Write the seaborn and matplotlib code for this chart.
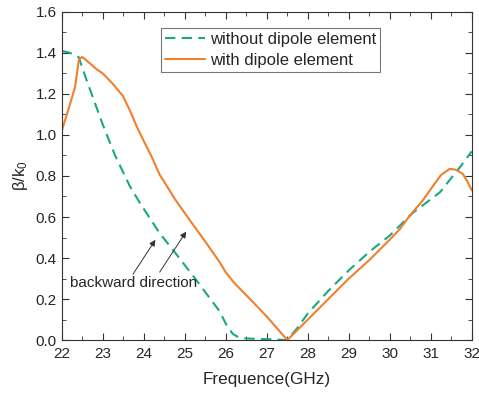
import seaborn as sns
import matplotlib.pyplot as plt
import matplotlib.ticker as mticker
import pandas as pd

# Data
freq_without = [22.0, 22.2, 22.41, 22.6, 22.8, 23.0, 23.3, 23.66, 23.9, 24.39, 24.71,
                25.29, 25.85, 26.0, 26.17, 26.3, 26.5, 26.9, 27.2, 27.5, 27.75, 28.0,
                28.5, 29.0, 29.5, 30.0, 30.56, 31.22, 31.7, 32.0]
beta_without = [1.41, 1.40, 1.38, 1.27, 1.16, 1.05, 0.90, 0.75, 0.67, 0.52, 0.44,
                0.29, 0.14, 0.08, 0.03, 0.015, 0.008, 0.005, 0.003, 0.0, 0.06, 0.13,
                0.24, 0.34, 0.43, 0.51, 0.62, 0.72, 0.84, 0.92]

freq_with = [22.0, 22.2, 22.32, 22.37, 22.42, 22.5, 22.68, 22.85, 23.0, 23.24, 23.49,
             23.66, 23.83, 24.0, 24.2, 24.39, 24.55, 24.75, 25.12, 25.5, 25.85, 26.0,
             26.2, 26.59, 27.0, 27.5, 28.0, 28.5, 29.0, 29.5, 30.0, 30.24, 30.5,
             30.8, 31.05, 31.25, 31.46, 31.62, 31.78, 31.9, 32.0]
beta_with = [1.02, 1.15, 1.23, 1.30, 1.37, 1.38, 1.35, 1.32, 1.30, 1.25, 1.19,
             1.12, 1.04, 0.97, 0.89, 0.805, 0.755, 0.69, 0.585, 0.48, 0.38, 0.33,
             0.28, 0.20, 0.115, 0.0, 0.10, 0.20, 0.30, 0.39, 0.49, 0.54, 0.61,
             0.68, 0.75, 0.805, 0.835, 0.83, 0.81, 0.77, 0.73]

df = pd.concat([
    pd.DataFrame({'f': freq_without, 'b': beta_without, 'case': 'without dipole element'}),
    pd.DataFrame({'f': freq_with, 'b': beta_with, 'case': 'with dipole element'}),
])

sns.set_style('ticks')
plt.rcParams['font.family'] = ['Liberation Sans', 'DejaVu Sans']
plt.rcParams['mathtext.fontset'] = 'custom'
plt.rcParams['mathtext.rm'] = 'Liberation Sans'
plt.rcParams['mathtext.it'] = 'Liberation Sans'

fig = plt.figure(figsize=(4.79, 3.95), dpi=100)
ax = fig.add_axes([0.129, 0.139, 0.856, 0.831])

sns.lineplot(data=df, x='f', y='b', hue='case', style='case',
             palette=['#18a887', '#f07f2e'],
             dashes=[(5, 3), ''], lw=1.5, ax=ax, sort=False, estimator=None)

ax.set_xlim(22, 32)
ax.set_ylim(0, 1.6)
ax.xaxis.set_major_locator(mticker.MultipleLocator(1))
ax.xaxis.set_minor_locator(mticker.MultipleLocator(0.5))
ax.yaxis.set_major_locator(mticker.MultipleLocator(0.2))
ax.yaxis.set_minor_locator(mticker.MultipleLocator(0.1))
ax.yaxis.set_major_formatter(mticker.FormatStrFormatter('%.1f'))
ax.tick_params(which='both', direction='in', top=True, right=True,
               labelsize=11, color='#333333')
ax.tick_params(which='major', length=5)
ax.tick_params(axis='x', which='major', pad=5)
ax.tick_params(which='minor', length=3)
for s in ax.spines.values():
    s.set_color('#333333')

ax.set_xlabel('Frequence(GHz)', fontsize=12.3, labelpad=8)
ax.set_ylabel('β/k$_0$', fontsize=12)

leg = ax.legend(loc='upper left', bbox_to_anchor=(0.241, 0.951), fontsize=12,
                borderaxespad=0, frameon=True, fancybox=False, edgecolor='#555555',
                handlelength=2.4, borderpad=0.25, labelspacing=0.35,
                handletextpad=0.3)
leg.get_frame().set_linewidth(0.8)

ax.text(22.2, 0.28, 'backward direction', fontsize=11, va='center')
for start, end in [((23.7, 0.31), (24.32, 0.50)), ((24.35, 0.32), (25.07, 0.54))]:
    ax.annotate('', xy=end, xytext=start,
                arrowprops=dict(arrowstyle='-|>', color='#333333', lw=0.7,
                                mutation_scale=9))

fig.savefig('out.png', dpi=100)
